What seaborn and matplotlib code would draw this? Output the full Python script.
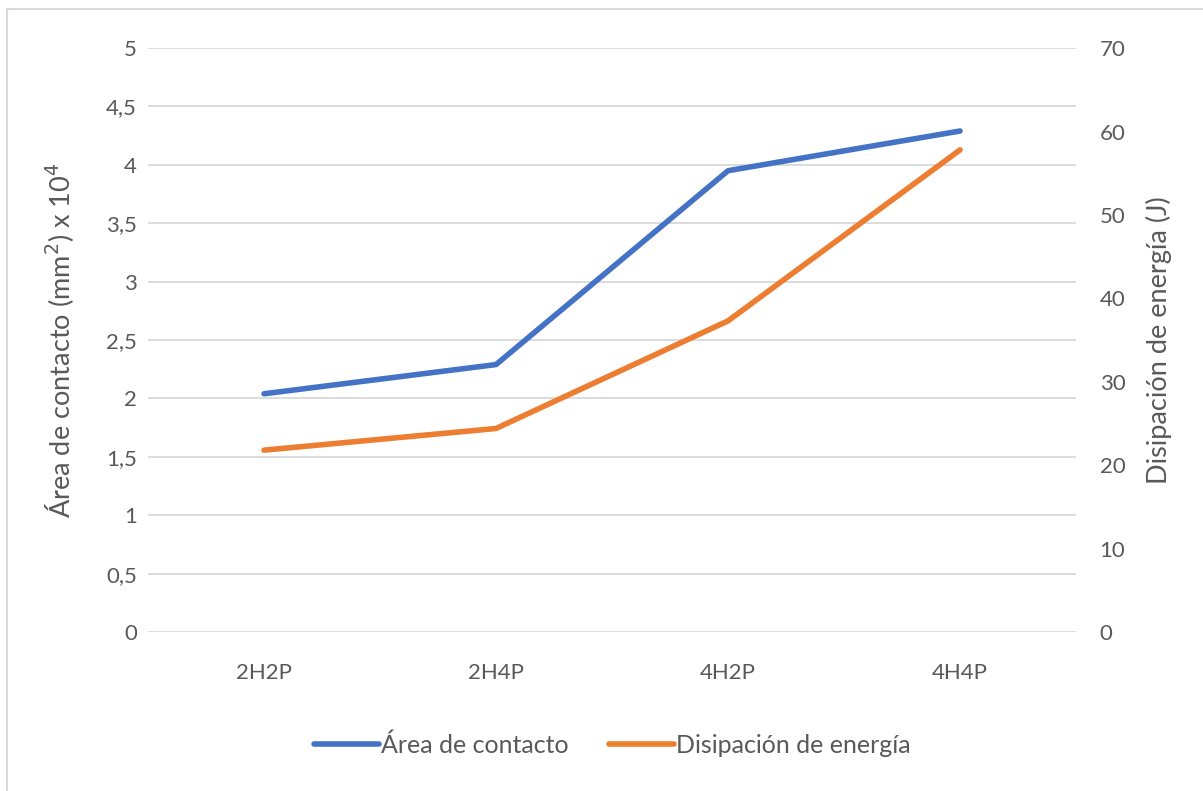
import matplotlib
matplotlib.use("Agg")
import matplotlib.pyplot as plt
from matplotlib.patches import Rectangle
from matplotlib.lines import Line2D
import seaborn as sns
import pandas as pd

categories = ["2H2P", "2H4P", "4H2P", "4H4P"]
area_contacto = [2.04, 2.29, 3.95, 4.29]
disipacion_energia = [21.8, 24.4, 37.3, 57.8]
left_ticks = [0, 0.5, 1, 1.5, 2, 2.5, 3, 3.5, 4, 4.5, 5]
left_labels = ["0", "0,5", "1", "1,5", "2", "2,5", "3", "3,5", "4", "4,5", "5"]
right_ticks = [0, 10, 20, 30, 40, 50, 60, 70]

sns.set_theme(style="white")
plt.rcParams["font.family"] = ["Lato", "Open Sans", "DejaVu Sans"]

blue = "#4472C4"
orange = "#ED7D31"
text_gray = "#595959"
grid_gray = "#D9D9D9"

df = pd.DataFrame({"cat": categories, "area": area_contacto, "energia": disipacion_energia})
df["x"] = range(len(categories))

fig = plt.figure(figsize=(12.03, 7.91), dpi=100)
ax = fig.add_axes([0.123, 0.201, 0.7715, 0.7382])
ax2 = ax.twinx()

sns.lineplot(data=df, x="x", y="area", ax=ax, color=blue, linewidth=4.0,
             solid_capstyle="round", solid_joinstyle="round", zorder=3)
sns.lineplot(data=df, x="x", y="energia", ax=ax2, color=orange, linewidth=4.0,
             solid_capstyle="round", solid_joinstyle="round", zorder=3)

ax.set_xlim(-0.5, 3.5)
ax.set_ylim(0, 5)
ax2.set_ylim(0, 70)
ax.set_xticks(range(len(categories)))
ax.set_xticklabels(categories)
ax.set_yticks(left_ticks)
ax.set_yticklabels(left_labels)
ax2.set_yticks(right_ticks)

ax.yaxis.grid(True, color=grid_gray, linewidth=1.3)
ax.set_axisbelow(True)
for a in (ax, ax2):
    for s in a.spines.values():
        s.set_visible(False)
    a.tick_params(axis="both", length=0, labelsize=16, labelcolor=text_gray)
ax.tick_params(axis="x", pad=22)
ax.tick_params(axis="y", pad=8)
ax2.tick_params(axis="y", pad=17)
ax2.grid(False)

ax.set_xlabel("")
ax.set_ylabel("Área de contacto (mm$^2$) x 10$^4$", fontsize=19.5, color=text_gray)
ax2.set_ylabel("Disipación de energía (J)", fontsize=19.5, color=text_gray)
ax.yaxis.set_label_coords(-0.078, 0.5)
ax2.yaxis.set_label_coords(1.075, 0.5)

handles = [Line2D([0], [0], color=blue, linewidth=4.0, solid_capstyle="round"),
           Line2D([0], [0], color=orange, linewidth=4.0, solid_capstyle="round")]
fig.legend(handles, ["Área de contacto", "Disipación de energía"], loc="center",
           bbox_to_anchor=(0.509, 0.058), ncol=2, frameon=False, fontsize=18,
           labelcolor=text_gray, handlelength=2.6, handletextpad=0.1, columnspacing=1.6)

fig.patches.append(Rectangle((0.006, -0.05), 1.1, 1.039, transform=fig.transFigure,
                             fill=False, edgecolor="#D9D9D9", linewidth=1.5))

fig.savefig("out.png", dpi=100)
